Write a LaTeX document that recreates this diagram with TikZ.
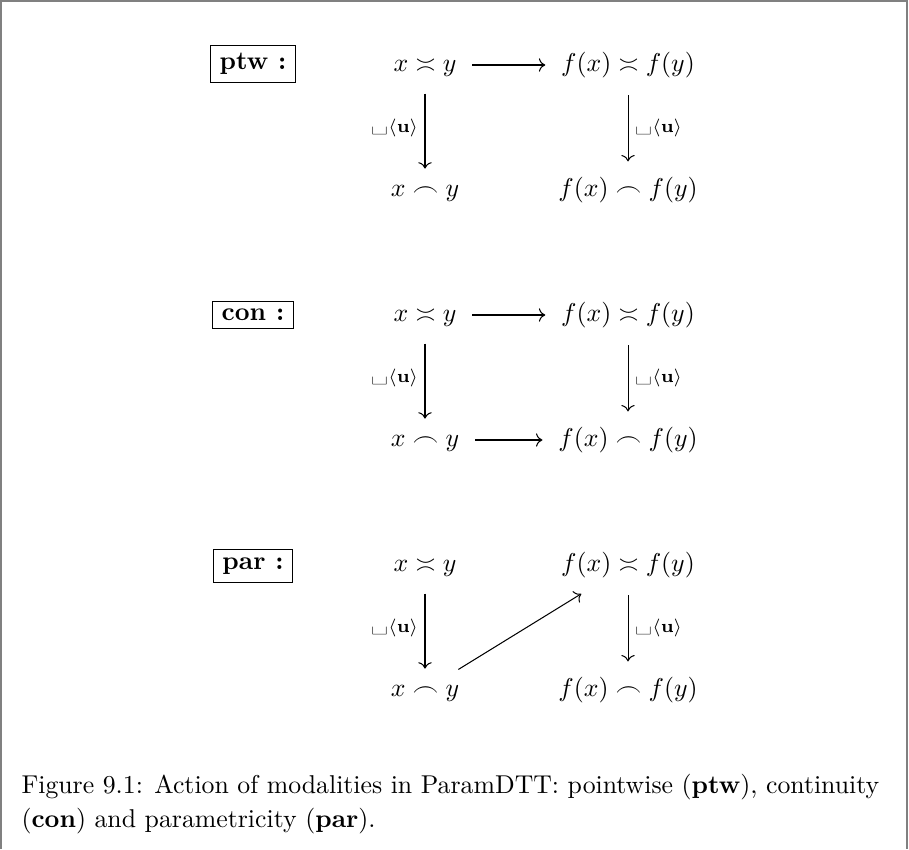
\documentclass[tikz,border=0pt]{standalone}
\usepackage{graphicx}
\usetikzlibrary{cd}
\tikzset{
  mnode/.style={inner xsep=6pt, inner ysep=0pt, text height=7.5pt, text depth=2.5pt},
  modbox/.style={draw, line width=0.4pt, inner xsep=3.5pt, inner ysep=3pt},
  arr/.style={-cm to, line width=0.4pt},
  lab/.style={font=\scriptsize, inner sep=2.5pt},
  framecol/.style={draw=black!50, line width=0.6pt},
}
\newcommand{\ulab}{\scalebox{1.7}[1.2]{\textvisiblespace}$\langle\mathbf{u}\rangle$}
\begin{document}
\begin{tikzpicture}[x=0.388pt,y=-0.388pt]
\useasboundingbox (0,0) rectangle (909,849);
\draw[framecol] (1,849) -- (1,1) -- (907,1) -- (907,849);

% ---------- ptw ----------
\node[modbox] (b1) at (253,64) {\textbf{ptw :}};
\node[mnode] (a1) at (425,65) {$x \asymp y$};
\node[mnode] (a2) at (628,65) {$f(x) \asymp f(y)$};
\node[mnode] (a3) at (425,190) {$x \frown y$};
\node[mnode] (a4) at (628,190) {$f(x) \frown f(y)$};
\draw[arr] (a1) -- (a2);
\draw[arr, shorten <=5.9pt, shorten >=3.1pt] (a1.south) -- node[lab, left] {\ulab} (a3.north);
\draw[arr, shorten <=6.6pt, shorten >=5.9pt] (a2.south) -- node[lab, right] {\ulab} (a4.north);

% ---------- con ----------
\node[modbox] (b2) at (253,315) {\textbf{con :}};
\node[mnode] (c1) at (425,315) {$x \asymp y$};
\node[mnode] (c2) at (628,315) {$f(x) \asymp f(y)$};
\node[mnode] (c3) at (425,440) {$x \frown y$};
\node[mnode] (c4) at (628,440) {$f(x) \frown f(y)$};
\draw[arr] (c1) -- (c2);
\draw[arr] (c3) -- (c4);
\draw[arr, shorten <=5.9pt, shorten >=3.1pt] (c1.south) -- node[lab, left] {\ulab} (c3.north);
\draw[arr, shorten <=6.6pt, shorten >=5.9pt] (c2.south) -- node[lab, right] {\ulab} (c4.north);

% ---------- par ----------
\node[modbox] (b3) at (253,566) {\textbf{par :}};
\node[mnode] (p1) at (425,565) {$x \asymp y$};
\node[mnode] (p2) at (628,565) {$f(x) \asymp f(y)$};
\node[mnode] (p3) at (425,690) {$x \frown y$};
\node[mnode] (p4) at (628,690) {$f(x) \frown f(y)$};
\draw[arr, shorten <=15.2pt, shorten >=21.3pt] (p3.center) -- (p2.center);
\draw[arr, shorten <=5.9pt, shorten >=3.1pt] (p1.south) -- node[lab, left] {\ulab} (p3.north);
\draw[arr, shorten <=6.6pt, shorten >=5.9pt] (p2.south) -- node[lab, right] {\ulab} (p4.north);

% ---------- caption ----------
\node[anchor=base west, align=left, inner sep=0pt] (cap) at (21,827)
  {Figure 9.1: Action of modalities in ParamDTT: pointwise (\textbf{ptw}), continuity\\[1pt]
   (\textbf{con}) and parametricity (\textbf{par}).};
\end{tikzpicture}
\end{document}
